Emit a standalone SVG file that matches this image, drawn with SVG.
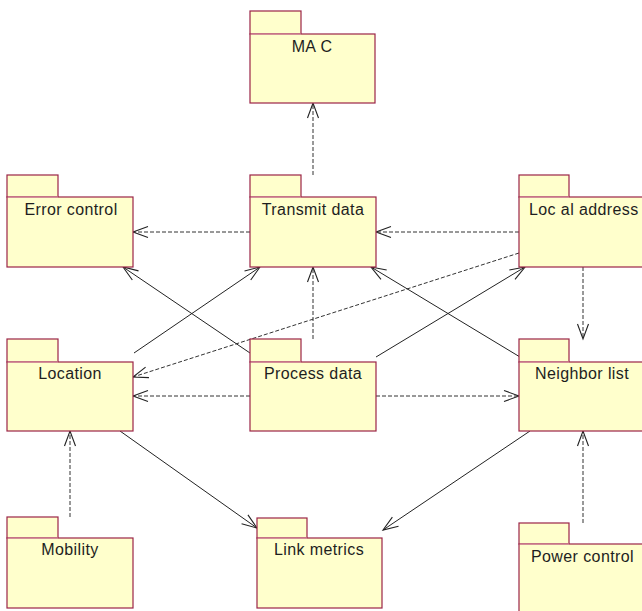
<svg xmlns="http://www.w3.org/2000/svg" width="642" height="611" viewBox="0 0 642 611">
<defs>
<style>
.tab,.body{fill:#ffffcc;stroke:#9b2346;stroke-width:1.2}
.div{stroke:#e3a3b4;stroke-width:1}
.lbl{font-family:"Liberation Sans",Arial,sans-serif;font-size:16px;fill:#1e1e1e;letter-spacing:0.4px}
.c{text-anchor:middle}
.dep{fill:none;stroke:#333;stroke-width:1;stroke-dasharray:4 2;marker-end:url(#arr)}
.nav{fill:none;stroke:#222;stroke-width:1;marker-end:url(#arr)}
</style>
<marker id="arr" markerUnits="userSpaceOnUse" markerWidth="20" markerHeight="16" viewBox="-16 -8 20 16" refX="0" refY="0" orient="auto">
<path d="M-15,-5.5 L0,0 L-15,5.5" fill="none" stroke="#222" stroke-width="1.1"/>
</marker>
</defs>
<rect width="642" height="611" fill="#fff"/>
<g id="connectors">
<path class="dep" d="M313,175 L313,103"/>
<path class="dep" d="M250,232 L133,232"/>
<path class="dep" d="M519,232 L376,232"/>
<path class="dep" d="M519,253 L133,377"/>
<path class="dep" d="M583,267 L583,339"/>
<path class="dep" d="M313,339 L313,267"/>
<path class="dep" d="M250,396 L133,396"/>
<path class="dep" d="M376,396 L519,396"/>
<path class="dep" d="M70,517 L70,431"/>
<path class="dep" d="M583,523 L583,431"/>
<path class="nav" d="M134,353 L260,267"/>
<path class="nav" d="M250,353 L123,267"/>
<path class="nav" d="M376,357 L525,267"/>
<path class="nav" d="M520,357 L371,267"/>
<path class="nav" d="M120,431 L257,528"/>
<path class="nav" d="M530,431 L383,530"/>
</g>
<g id="mac">
<rect class="tab" x="250" y="11" width="51" height="23"/>
<rect class="body" x="250" y="34" width="125" height="69"/>
<line class="div" x1="250.6" y1="34" x2="301" y2="34"/>
<text class="lbl c" x="312" y="52">MA C</text>
</g>
<g id="error-control">
<rect class="tab" x="7" y="175" width="51" height="22"/>
<rect class="body" x="7" y="197" width="126" height="70"/>
<line class="div" x1="7.6" y1="197" x2="58" y2="197"/>
<text class="lbl c" x="71" y="215">Error control</text>
</g>
<g id="transmit-data">
<rect class="tab" x="250" y="175" width="51" height="22"/>
<rect class="body" x="250" y="197" width="126" height="70"/>
<line class="div" x1="250.6" y1="197" x2="301" y2="197"/>
<text class="lbl c" x="313" y="215">Transmit data</text>
</g>
<g id="local-address">
<rect class="tab" x="519" y="175" width="50" height="22"/>
<rect class="body" x="519" y="197" width="130" height="70"/>
<line class="div" x1="519.6" y1="197" x2="569" y2="197"/>
<text class="lbl" x="529" y="215">Loc al address</text>
</g>
<g id="location">
<rect class="tab" x="7" y="339" width="51" height="23"/>
<rect class="body" x="7" y="362" width="126" height="69"/>
<line class="div" x1="7.6" y1="362" x2="58" y2="362"/>
<text class="lbl c" x="70" y="379">Location</text>
</g>
<g id="process-data">
<rect class="tab" x="250" y="339" width="51" height="23"/>
<rect class="body" x="250" y="362" width="126" height="69"/>
<line class="div" x1="250.6" y1="362" x2="301" y2="362"/>
<text class="lbl c" x="313" y="379">Process data</text>
</g>
<g id="neighbor-list">
<rect class="tab" x="519" y="339" width="50" height="23"/>
<rect class="body" x="519" y="362" width="130" height="69"/>
<line class="div" x1="519.6" y1="362" x2="569" y2="362"/>
<text class="lbl c" x="582" y="379">Neighbor list</text>
</g>
<g id="mobility">
<rect class="tab" x="7" y="517" width="51" height="21"/>
<rect class="body" x="7" y="538" width="126" height="70"/>
<line class="div" x1="7.6" y1="538" x2="58" y2="538"/>
<text class="lbl c" x="70" y="555">Mobility</text>
</g>
<g id="link-metrics">
<rect class="tab" x="257" y="518" width="50" height="20"/>
<rect class="body" x="257" y="538" width="125" height="70"/>
<line class="div" x1="257.6" y1="538" x2="307" y2="538"/>
<text class="lbl c" x="319" y="555">Link metrics</text>
</g>
<g id="power-control">
<rect class="tab" x="519" y="523" width="50" height="21"/>
<rect class="body" x="519" y="544" width="130" height="80"/>
<line class="div" x1="519.6" y1="544" x2="569" y2="544"/>
<text class="lbl" x="531" y="562">Power control</text>
</g>
</svg>
